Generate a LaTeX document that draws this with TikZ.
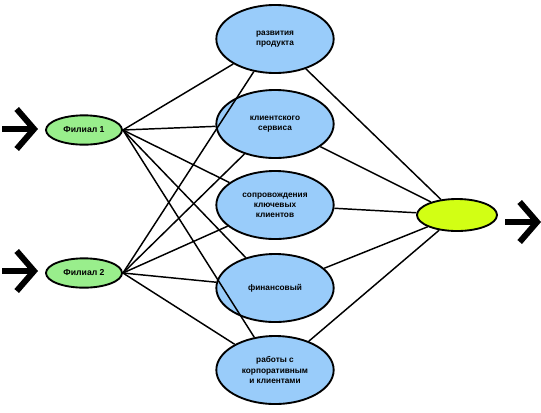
\documentclass[tikz,border=0pt]{standalone}
\usepackage{fontspec}
\setmainfont{Liberation Sans}
\usetikzlibrary{shapes.geometric,arrows.meta}
\definecolor{filgreen}{RGB}{153,238,140}
\definecolor{otdblue}{RGB}{153,204,250}
\definecolor{reslime}{RGB}{210,255,20}
\begin{document}
\begin{tikzpicture}[x=0.75pt, y=-0.75pt, line width=1.1pt,
  filial/.style={ellipse, draw, line width=1.4pt, fill=filgreen, minimum width=57pt, minimum height=22pt, inner sep=0pt, font=\bfseries\fontsize{6.5}{7.5}\selectfont},
  otdel/.style={ellipse, draw, line width=1.4pt, fill=otdblue, minimum width=88pt, minimum height=51pt, inner sep=0pt, align=center, font=\bfseries\fontsize{6.2}{7.6}\selectfont},
  itog/.style={ellipse, draw, line width=1.4pt, fill=reslime, minimum width=60pt, minimum height=24pt, inner sep=0pt},
  bigarrow/.style={line width=4.5pt, -{Straight Barb[length=13pt,width=30pt]}}]
\useasboundingbox (0,0) rectangle (541,412);
% filialy
\node[filial] (f1) at (84,130) {Филиал 1};
\node[filial] (f2) at (84,273) {Филиал 2};
% otdely
\node[otdel] (o1) at (275,39)  {развития\\продукта};
\node[otdel] (o2) at (275,124) {клиентского\\сервиса};
\node[otdel] (o3) at (275,205) {сопровождения\\ключевых\\клиентов};
\node[otdel] (o4) at (275,288) {финансовый};
\node[otdel] (o5) at (275,370) {работы с\\корпоративным\\и клиентами};
% itog
\node[itog] (r) at (457,215) {};
% strelki
\coordinate (a1) at (2,129);
\coordinate (a1e) at (38,129);
\coordinate (a2) at (2,271);
\coordinate (a2e) at (38,271);
\coordinate (a3) at (505,222);
\coordinate (a3e) at (541,222);
\draw[bigarrow] (a1) -- (a1e);
\draw[bigarrow] (a2) -- (a2e);
\draw[bigarrow] (a3) -- (a3e);
% svyazi
\foreach \o in {o1,o2,o3,o4,o5} {
  \draw (f1.east) -- (\o);
  \draw (f2.east) -- (\o);
  \draw (\o) -- (r);
}
\end{tikzpicture}
\end{document}
